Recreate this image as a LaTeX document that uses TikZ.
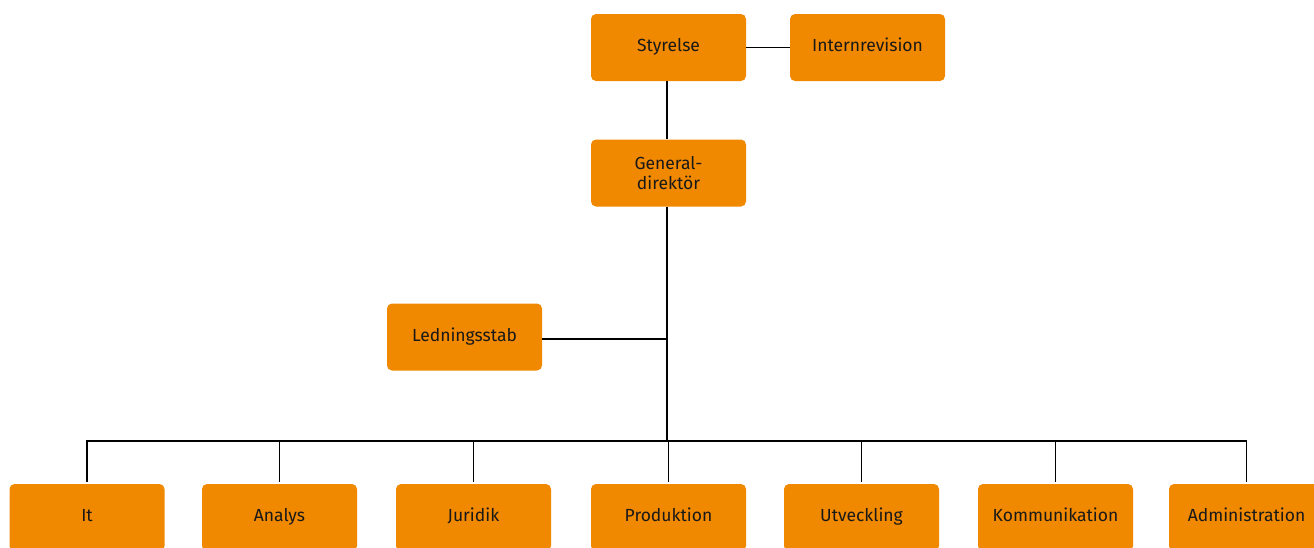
\documentclass[tikz,border=0pt]{standalone}
\usepackage{fontspec}
\setmainfont{Fira Sans}
\usetikzlibrary{calc}
\definecolor{orgorange}{HTML}{F08800}

\begin{document}
\begin{tikzpicture}[x=1pt, y=1pt, font=\fontsize{17.5}{20}\selectfont,
    unit/.style={fill=orgorange, rounded corners=5pt, minimum width=155pt, minimum height=67pt,
      inner sep=0pt, text=black!90, text height=0.9em, text depth=0.1em},
    twoline/.style={fill=orgorange, rounded corners=5pt, minimum width=155pt, minimum height=67pt,
      inner sep=0pt, text=black!90, align=center},
    link/.style={line width=1.4pt, black}]
  \useasboundingbox (0,0) rectangle (1314,-547);
  \begin{scope}
    \clip (0,0) rectangle (1314,-547);
    % top of the organisation
    \node[unit] (styrelse) at (668.5,-47.5) {Styrelse};
    \node[unit] (intrev) at (867.5,-47.5) {Internrevision};
    \node[twoline] (gd) at (668.5,-173) {General-\\direktör};
    \node[unit] (stab) at (464.5,-337) {Ledningsstab};
    % departments along the bottom
    \foreach \n/\x/\t in {it/87/It, analys/279.5/Analys, juridik/473.5/Juridik,
        prod/668.5/Produktion, utv/861.5/Utveckling, komm/1055.5/Kommunikation,
        admin/1246.5/Administration}
      \node[unit] (\n) at (\x,-517.5) {\t};
    \coordinate (bus) at (667,-441);
    \coordinate (stabjoin) at (667,-339);
    \draw[link] (styrelse.east) -- (intrev.west);
    \draw[link] (styrelse.south -| bus) -- (gd.north -| bus);
    \draw[link] (gd.south -| bus) -- (bus);
    \draw[link] (stab.east |- stabjoin) -- (stabjoin);
    \draw[link, line join=miter] ($(it.north)+(0,2)$) |- (bus) -| ($(admin.north)+(0,2)$);
    \foreach \n in {analys,juridik,prod,utv,komm}
      \draw[link] ($(\n.north)+(0,2)$) -- (\n.north |- bus);
  \end{scope}
\end{tikzpicture}
\end{document}
